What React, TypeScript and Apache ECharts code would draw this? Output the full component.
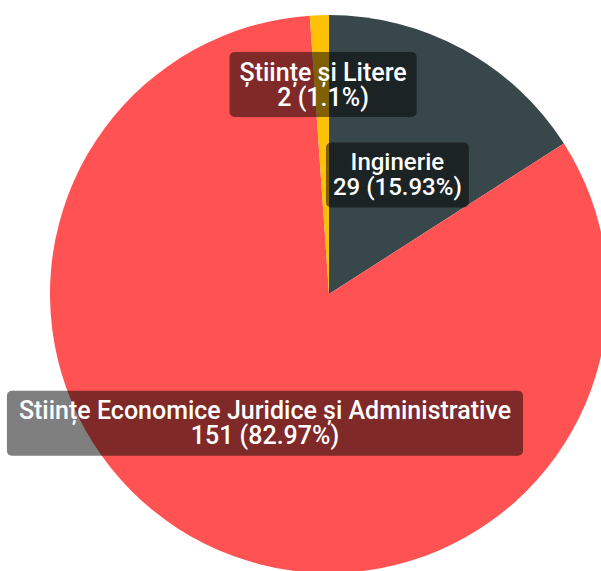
import React, { useEffect, useRef } from "react";
import * as echarts from "echarts";

const categories = ["Inginerie", "Stiințe Economice Juridice și Administrative", "Științe și Litere"];
const values = [29, 151, 2];
const colors = ["#37474a", "#ff5252", "#ffc107"];

export default function App() {
  const ref = useRef<HTMLDivElement>(null);
  useEffect(() => {
    document.body.style.margin = "0";
    const chart = echarts.init(ref.current!, null, { renderer: "svg" });
    const total = values.reduce((a, b) => a + b, 0);
    const itemLabels = [
      { offset: [0, 6] },
      { offset: [0, 2], fontSize: 25, padding: [7, 12, 8, 12] },
      { offset: [-1, -67], fontSize: 25, padding: [7, 10, 8, 10] },
    ];
    chart.setOption({
      animation: false,
      series: [
        {
          type: "pie",
          center: [329, 294],
          radius: [0, 279],
          startAngle: 90,
          clockwise: true,
          avoidLabelOverlap: false,
          data: categories.map((name, i) => ({
            name,
            value: values[i],
            itemStyle: { color: colors[i] },
            label: itemLabels[i],
          })),
          label: {
            show: true,
            position: "inside",
            color: "#fff",
            fontFamily: "Roboto",
            fontWeight: 500,
            fontSize: 24,
            lineHeight: 25,
            align: "center",
            backgroundColor: "rgba(0,0,0,0.5)",
            borderRadius: 5,
            padding: [7, 7, 8, 7],
            formatter: (p: any) => {
              const pct = Math.round((p.value / total) * 10000) / 100;
              return `${p.name}\n${p.value} (${pct}%)`;
            },
          },
          labelLine: { show: false },
          emphasis: { disabled: true },
        },
      ],
    });
    return () => chart.dispose();
  }, []);
  return <div ref={ref} style={{ width: 601, height: 571 }} />;
}
